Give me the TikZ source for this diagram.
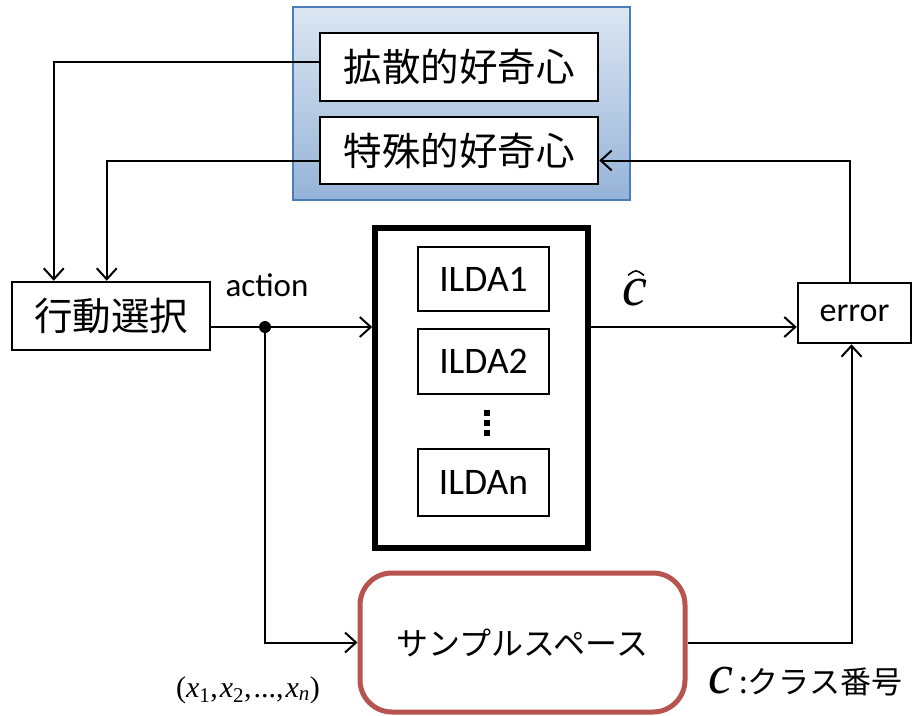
\documentclass[tikz,border=0pt]{standalone}
\usepackage{fontspec}
\setmainfont{Carlito}
\newfontfamily\jp{Noto Sans CJK JP}
\newfontfamily\tms{Liberation Serif}
\usetikzlibrary{arrows.meta,calc}
\definecolor{blueedge}{HTML}{4A7EBB}
\definecolor{bluetop}{HTML}{DCE6F2}
\definecolor{bluebot}{HTML}{95B3D7}
\definecolor{rededge}{HTML}{B85450}
\tikzset{
  box/.style={draw=black, line width=2.5pt, fill=white, inner sep=0pt},
  jpbox/.style={box, font=\jp\fontsize{38.5}{40}\selectfont},
  ildabox/.style={box, minimum width=131pt, font=\fontsize{37.5}{40}\selectfont},
  conn/.style={line width=2pt},
  arr/.style={conn, -{Straight Barb[length=11pt,width=20pt,line width=2pt]}},
}
\begin{document}
\begin{tikzpicture}[x=1pt,y=-1pt]
\useasboundingbox (0,0) rectangle (920,715);
% blue panel
\node[draw=blueedge, line width=2pt, top color=bluetop, bottom color=bluebot,
      minimum width=337pt, minimum height=193pt, inner sep=0pt] (panel) at (461.5,103.5) {};
\node[jpbox, minimum width=278pt, minimum height=68pt] (kakusan) at (459,67) {拡散的好奇心};
\node[jpbox, minimum width=278pt, minimum height=67pt] (tokushu) at (459,150.5) {特殊的好奇心};
% action selection
\node[jpbox, minimum width=198pt, minimum height=68pt] (koudou) at (111,316) {行動選択};
% ILDA group
\node[draw=black, line width=5.5pt, fill=white, minimum width=213pt, minimum height=320pt, inner sep=0pt] (ilda) at (481.5,388) {};
\node[ildabox, minimum height=64pt] (ilda1) at (483.5,279) {ILDA1};
\node[ildabox, minimum height=65pt] (ilda2) at (483.5,361.5) {ILDA2};
\node[ildabox, minimum height=67pt] (ildan) at (483.5,482.5) {ILDAn};
\node[inner sep=0pt, minimum width=6pt, minimum height=30pt] (vdots) at (487,423) {};
\fill ($(vdots.center)+(-3,-13)$) rectangle ++(6,6);
\fill ($(vdots.center)+(-3,-3)$) rectangle ++(6,6);
\fill ($(vdots.center)+(-3,7)$) rectangle ++(6,6);
% error
\node[box, minimum width=113pt, minimum height=60pt, font=\fontsize{34}{36}\selectfont] (error) at (854.5,313) {error};
% sample space
\node[draw=rededge, line width=5pt, rounded corners=32pt, fill=white, minimum width=325pt, minimum height=139pt,
      font=\jp\fontsize{32}{36}\selectfont] (sample) at (522.5,642.5) {サンプルスペース};
% labels
\node[font=\fontsize{33}{36}\selectfont] (action) at (267,285) {action};
\node[font=\tms\itshape\fontsize{56}{56}\selectfont, inner sep=0pt] (chat) at (635,293) {c};
\draw[line width=1.6pt] ($(chat.north)+(-7,-4)$) .. controls ($(chat.north)+(1,-10)$) .. ($(chat.north)+(9,-4)$);
\node[font=\tms\fontsize{30}{32}\selectfont, inner sep=0pt] (xs) at (248,690) {(\textit{x}\textsubscript{1},\kern2pt\textit{x}\textsubscript{2},\kern2pt...,\kern2pt\textit{x}\textsubscript{\textit{n}})};
\node[inner sep=0pt, anchor=west] (clabel) at (708,682) {{\tms\itshape\fontsize{56}{56}\selectfont c}\kern6pt{\jp\fontsize{31}{32}\selectfont :クラス番号}};
% connectors
\coordinate (dot) at (265,327);
\draw[arr] ([yshift=5pt]kakusan.west) -| ([xshift=43pt]koudou.north west);
\draw[arr] ([yshift=-10pt]tokushu.west) -| ([xshift=96pt]koudou.north west);
\draw[conn] (koudou.east |- dot) -- (dot);
\draw[arr] (dot) -- (ilda.west |- dot);
\draw[arr] (dot) |- (sample.west);
\fill (dot) circle (6pt);
\draw[arr] (ilda.east |- dot) -- (error.west |- dot);
\draw[arr] (sample.east) -| ([xshift=-3pt]error.south);
\draw[arr] ([xshift=-5pt]error.north) |- ([yshift=-10pt]tokushu.east);
\end{tikzpicture}
\end{document}
